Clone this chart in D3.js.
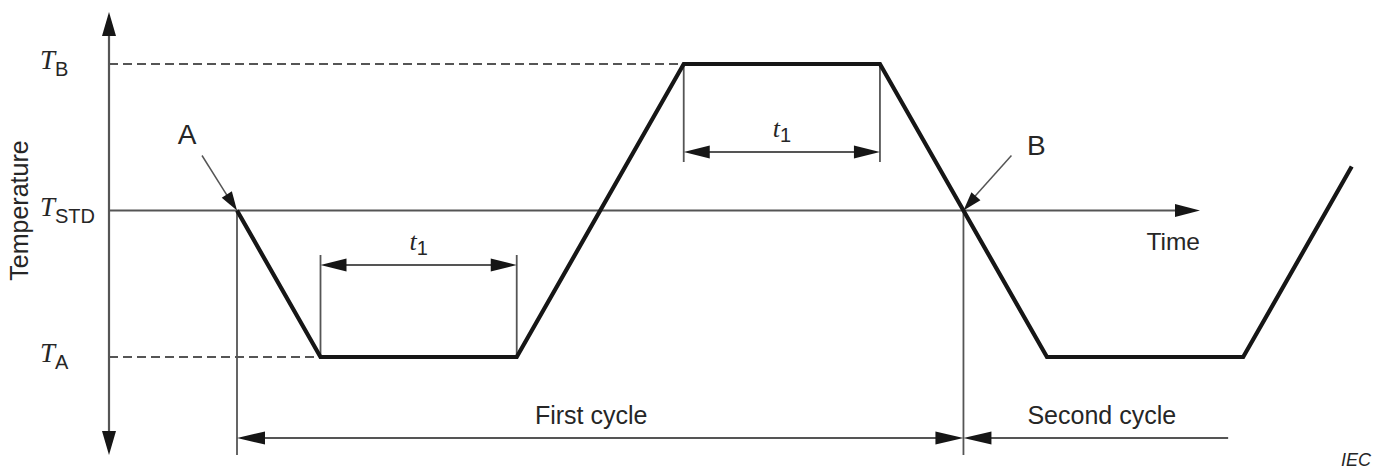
<!DOCTYPE html>
<html>
<head>
<meta charset="utf-8">
<script src="https://cdn.jsdelivr.net/npm/d3@7"></script>
<style>
  html, body { margin: 0; padding: 0; background: #fff; }
  svg { display: block; }
</style>
</head>
<body>
<svg id="chart" width="1380" height="470"></svg>
<script>
// ---------- data ----------
const levelNames = ["A", "STD", "B"];          // subscripts of T
const levelValues = [-1, 0, 1];                // T_A, T_STD, T_B (relative)
const profileTime = [0, 1, 3.35, 5.35, 7.7, 8.7, 9.7, 12.05, 13.35];
const profileTemp = [0, -1, -1, 1, 1, 0, -1, -1, 0.3];
const dwellStart = [1, 5.35];
const dwellEnd = [3.35, 7.7];
const dwellLevel = [-1, 1];
const cycleStart = [0, 8.7];
const cycleEnd = [8.7, 11.87];
const cycleLabels = ["First cycle", "Second cycle"];
const pointLabels = ["A", "B"];
const pointTime = [0, 8.7];

// ---------- layout ----------
const svg = d3.select("#chart");
const x = d3.scaleLinear().domain([0, 10]).range([237, 1072]);
const y = d3.scaleLinear().domain([-1, 1]).range([357, 64]);
const axisX = 109, axisTop = 12, axisBottom = 455, timeTip = 1200;
const thin = "#555", dark = "#161616", textCol = "#262626";
const sans = "'Liberation Sans', Arial, sans-serif";
const serif = "'Liberation Serif', 'Times New Roman', serif";

function head(tx, ty, fx, fy, len, hw) {
  const dx = tx - fx, dy = ty - fy, L = Math.hypot(dx, dy);
  const ux = dx / L, uy = dy / L;
  const bx = tx - ux * len, by = ty - uy * len;
  const px = -uy * hw, py = ux * hw;
  svg.append("path")
    .attr("d", `M${tx},${ty}L${bx + px},${by + py}L${bx - px},${by - py}Z`)
    .attr("fill", dark);
}
function line(x1, y1, x2, y2, w, col, dash) {
  const l = svg.append("line").attr("x1", x1).attr("y1", y1).attr("x2", x2).attr("y2", y2)
    .attr("stroke", col || thin).attr("stroke-width", w || 1.8);
  if (dash) l.attr("stroke-dasharray", dash);
  return l;
}

// dashed reference lines for T_B and T_A
line(axisX, y(1), x(dwellStart[1]), y(1), 1.8, thin, "9,5");
line(axisX, y(-1), x(dwellStart[0]), y(-1), 1.8, thin, "9,5");

// temperature axis
line(axisX, axisTop + 10, axisX, axisBottom - 10, 2.2);
head(axisX, axisTop, axisX, axisBottom, 24, 7);
head(axisX, axisBottom, axisX, axisTop, 24, 7);

// time axis at T_STD
line(axisX, y(0), timeTip - 10, y(0), 2.2);
head(timeTip, y(0), axisX, y(0), 25, 6.5);

// level labels
levelNames.forEach((n, i) => {
  const t = svg.append("text").attr("x", 40).attr("y", y(levelValues[i]) + 5)
    .attr("fill", textCol);
  t.append("tspan").attr("font-family", serif).attr("font-style", "italic")
    .attr("font-size", 27).text("T");
  t.append("tspan").attr("font-family", sans).attr("font-size", 20)
    .attr("dy", 7).text(n);
});

// y axis title
svg.append("text")
  .attr("transform", `translate(28,${y(0)}) rotate(-90)`)
  .attr("text-anchor", "middle")
  .attr("font-family", sans).attr("font-size", 25).attr("fill", textCol)
  .text("Temperature");

// Time label
svg.append("text").attr("x", timeTip).attr("y", y(0) + 39)
  .attr("text-anchor", "end").attr("font-family", sans).attr("font-size", 24.5)
  .attr("fill", textCol).text("Time");

// dwell dimension arrows (t1)
const dwellArrowOffset = [-92, 88];
const dwellTickEnd = [-102, 98];
dwellStart.forEach((s, i) => {
  const yl = y(dwellLevel[i]);
  const ya = yl + dwellArrowOffset[i];
  const yt = yl + dwellTickEnd[i];
  const x1 = x(s), x2 = x(dwellEnd[i]);
  line(x1, yl, x1, yt);
  line(x2, yl, x2, yt);
  line(x1 + 10, ya, x2 - 10, ya);
  head(x1, ya, x2, ya, 26, 6.5);
  head(x2, ya, x1, ya, 26, 6.5);
  const t = svg.append("text").attr("x", (x1 + x2) / 2).attr("y", ya - 15)
    .attr("text-anchor", "middle").attr("fill", textCol);
  t.append("tspan").attr("font-family", serif).attr("font-style", "italic")
    .attr("font-size", 26).text("t");
  t.append("tspan").attr("font-family", sans).attr("font-size", 20)
    .attr("dy", 5).text("1");
});

// cycle dimension lines
const cycleY = 438;
cycleStart.forEach(s => line(x(s), y(0), x(s), axisBottom));
// first cycle: arrows both ends
line(x(cycleStart[0]) + 10, cycleY, x(cycleEnd[0]) - 10, cycleY);
head(x(cycleStart[0]), cycleY, x(cycleEnd[0]), cycleY, 28, 6.5);
head(x(cycleEnd[0]), cycleY, x(cycleStart[0]), cycleY, 28, 6.5);
// second cycle: arrow at start only
line(x(cycleStart[1]) + 10, cycleY, x(cycleEnd[1]), cycleY);
head(x(cycleStart[1]), cycleY, x(cycleEnd[1]), cycleY, 28, 6.5);
cycleLabels.forEach((lab, i) => {
  svg.append("text")
    .attr("x", (x(cycleStart[i]) + x(cycleEnd[i])) / 2 + (i === 0 ? -9 : 6))
    .attr("y", cycleY - 14)
    .attr("text-anchor", "middle").attr("font-family", sans).attr("font-size", 25)
    .attr("fill", textCol).text(lab);
});

// temperature profile
const prof = profileTime.map((t, i) => [x(t), y(profileTemp[i])]);
svg.append("path")
  .attr("d", d3.line()(prof))
  .attr("fill", "none").attr("stroke", dark).attr("stroke-width", 4.2)
  .attr("stroke-linejoin", "miter");

// point annotations A and B
const annOffset = [[-35, -55], [48, -55]];
const annLabelOffset = [[-50, -67], [73, -56]];
pointLabels.forEach((p, i) => {
  const tx = x(pointTime[i]), ty = y(0);
  const fx = tx + annOffset[i][0], fy = ty + annOffset[i][1];
  line(fx, fy, tx - (annOffset[i][0] > 0 ? -8 : 8) * 0.6, ty - 8 * 0.85, 1.5);
  head(tx, ty, fx, fy, 19, 6);
  svg.append("text").attr("x", tx + annLabelOffset[i][0]).attr("y", ty + annLabelOffset[i][1])
    .attr("text-anchor", "middle").attr("font-family", sans).attr("font-size", 28)
    .attr("fill", textCol).text(p);
});

// IEC mark
svg.append("text").attr("x", 1371).attr("y", 466).attr("text-anchor", "end")
  .attr("font-family", sans).attr("font-style", "italic").attr("font-size", 18)
  .attr("fill", textCol).text("IEC");
</script>
</body>
</html>
